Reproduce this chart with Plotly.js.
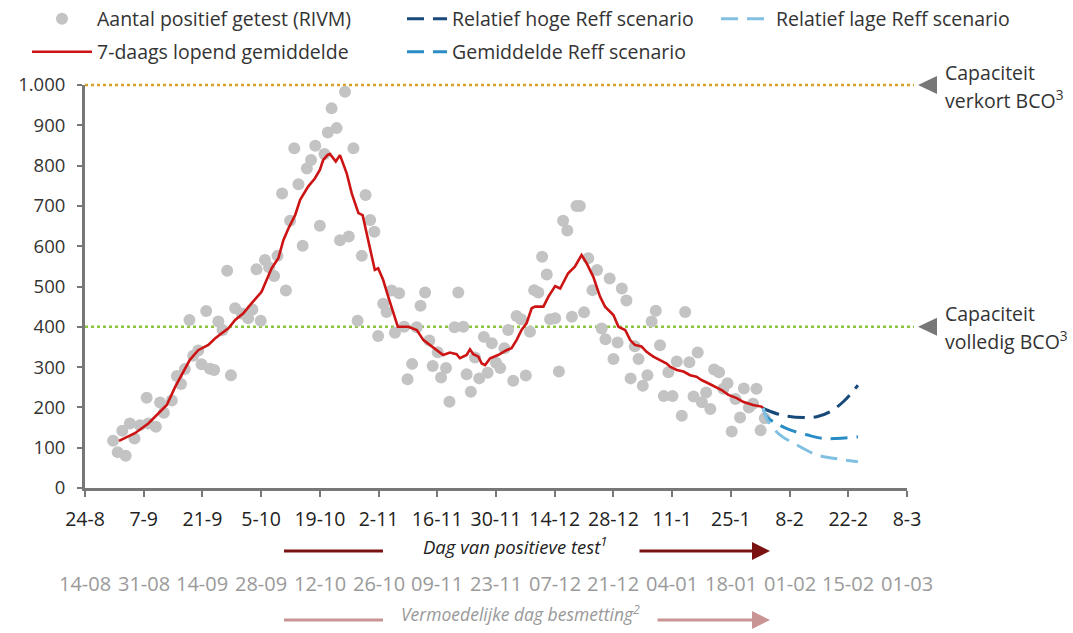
<!DOCTYPE html>
<html><head><meta charset="utf-8">
<script src="https://cdn.plot.ly/plotly-3.0.1.min.js"></script>
<style>html,body{margin:0;padding:0;background:#fff}#chart{width:1073px;height:633px}</style>
</head><body><div id="chart"></div>
<script>
// ---- data ----
const xTickDates = ['2020-08-24','2020-09-07','2020-09-21','2020-10-05','2020-10-19','2020-11-02','2020-11-16','2020-11-30','2020-12-14','2020-12-28','2021-01-11','2021-01-25','2021-02-08','2021-02-22','2021-03-08'];
const xTickLabels = ['24-8','7-9','21-9','5-10','19-10','2-11','16-11','30-11','14-12','28-12','11-1','25-1','8-2','22-2','8-3'];
const infectionLabels = ['14-08','31-08','14-09','28-09','12-10','26-10','09-11','23-11','07-12','21-12','04-01','18-01','01-02','15-02','01-03'];
const yTickVals = [0,100,200,300,400,500,600,700,800,900,1000];
const yTickLabels = ['0','100','200','300','400','500','600','700','800','900','1.000'];

// days since 24-8-2020
const dotDays = [6.7,7.8,8.9,9.7,10.7,11.8,13.1,14.7,15.1,16.9,17.9,18.8,20.7,21.9,22.9,23.8,24.9,25.8,27.0,27.8,28.9,29.8,30.8,31.8,32.8,33.9,34.8,35.8,37.4,38.9,39.9,40.9,41.9,42.9,43.9,45.1,45.9,47.0,47.9,48.9,49.9,50.9,51.9,52.9,53.9,54.9,56.0,57.1,57.9,58.8,60.0,60.8,62.0,62.9,64.0,65.0,66.0,66.9,68.0,69.0,69.9,71.1,71.9,73.1,73.9,74.9,76.1,76.9,78.0,79.1,80.0,81.1,82.1,82.9,84.1,84.9,86.1,86.9,88.1,89.0,90.2,91.0,92.0,93.0,94.0,95.1,96.0,97.0,98.0,99.0,100.0,100.9,102.1,102.9,104.0,105.1,106.1,107.1,108.1,109.0,110.1,110.9,112.1,113.0,114.0,115.0,116.1,117.2,118.0,119.0,120.0,121.0,122.1,123.2,124.1,125.1,126.0,127.0,128.0,129.1,130.1,131.1,132.0,133.0,134.1,135.1,136.1,137.1,138.0,139.1,140.1,141.1,142.3,143.1,144.1,145.1,146.1,147.1,148.1,149.1,150.0,151.2,152.2,153.2,154.2,155.1,156.2,157.1,158.3,159.3,160.1,161.1,162.1];
const dotValues = [117,89,142,80,160,123,156,224,160,152,212,187,217,278,258,295,417,328,341,307,439,296,293,413,392,539,280,446,433,421,443,543,415,566,548,526,576,731,490,663,843,754,601,793,814,849,651,829,882,942,893,615,983,624,843,415,576,727,665,636,377,457,437,490,385,483,400,270,308,399,452,485,366,303,337,274,298,214,399,485,400,282,239,324,272,375,286,359,311,298,347,392,266,427,419,279,388,491,485,574,530,419,421,289,663,639,425,700,700,436,570,491,541,396,369,520,320,361,495,465,272,352,320,254,280,413,440,354,228,287,228,314,179,437,312,227,336,213,237,196,294,287,246,260,140,221,175,247,200,209,246,143,173];

const avgDays = [8.1,11.9,15.1,17.5,19.5,21.5,23.1,25.0,27.0,29.4,30.2,31.0,32.6,34.2,35.8,37.7,39.7,42.1,43.3,44.5,46.1,47.3,48.5,50.1,51.3,53.2,54.8,56.0,56.8,57.8,58.4,59.2,59.8,60.8,61.8,62.4,63.6,65.2,66.2,67.0,68.0,69.1,69.9,71.1,72.3,73.9,74.6,77.1,79.1,80.7,82.7,85.4,87.0,88.6,89.4,91.0,91.8,92.6,93.8,94.6,95.4,96.6,98.5,100.5,101.7,102.9,104.1,105.3,106.5,107.3,109.3,110.5,112.1,113.3,115.2,116.8,118.4,119.6,121.2,122.8,124.0,126.0,127.2,128.8,130.0,131.1,132.7,133.9,135.5,137.1,138.7,139.5,141.1,142.7,144.3,145.8,147.0,148.6,150.2,151.8,153.4,155.4,156.9,159.3,161.3,161.7];
const avgValues = [117,136,160,185,206,251,280,318,342,355,363,371,384,396,417,433,458,487,516,545,570,615,644,677,715,748,768,789,814,826,829,818,810,826,797,781,731,682,677,640,599,541,545,516,475,425,400,400,392,367,351,330,336,332,322,330,344,332,326,309,305,322,330,342,347,367,392,409,446,450,450,475,501,495,533,549,578,558,524,475,450,429,400,392,367,355,351,338,326,318,309,301,293,289,280,276,268,260,251,243,231,223,214,206,202,198];

const highDays = [161.7,162.5,166.1,171.3,174.5,177.6,180.8,184.3];
const highValues = [198,194,181,175,177,189,214,255];
const midDays = [161.7,162.5,164.9,168.1,172.1,176.0,179.2,184.3];
const midValues = [198,177,160,144,132,123,123,127];
const lowDays = [161.7,162.9,165.7,169.7,174.5,178.4,184.3];
const lowValues = [198,165,132,107,82,74,65];

const capacityValues = [1000, 400];
const capacityColors = ['#d6a226', '#8cc63f'];
const capacityLines1 = ['Capaciteit', 'Capaciteit'];
const capacityLines2 = ['verkort BCO<sup>3</sup>', 'volledig BCO<sup>3</sup>'];

const seriesNames = ['Aantal positief getest (RIVM)', '7-daags lopend gemiddelde', 'Relatief hoge Reff scenario', 'Gemiddelde Reff scenario', 'Relatief lage Reff scenario'];

// ---- helpers ----
const base = Date.UTC(2020, 7, 24);
const toDate = d => base + d * 864e5;
const L = 85, R = 907, T = 85, B = 488;
const xp = px => (px - L) / (R - L);
const yp = py => (B - py) / (B - T);
const FONT = '"Open Sans", Lato, sans-serif';

const traces = [
  {x: dotDays.map(toDate), y: dotValues, type: 'scatter', mode: 'markers', name: seriesNames[0],
   marker: {color: '#c3c3c3', size: 12}, legend: 'legend', showlegend: true, cliponaxis: false},
  {x: avgDays.map(toDate), y: avgValues, type: 'scatter', mode: 'lines', name: seriesNames[1],
   line: {color: '#cc1414', width: 2.6}, legend: 'legend4', showlegend: true},
  {x: highDays.map(toDate), y: highValues, type: 'scatter', mode: 'lines', name: seriesNames[2],
   line: {color: '#17497a', width: 3, dash: '17px,9px', shape: 'spline'}, legend: 'legend2', showlegend: true},
  {x: midDays.map(toDate), y: midValues, type: 'scatter', mode: 'lines', name: seriesNames[3],
   line: {color: '#2a8cc4', width: 3, dash: '17px,9px', shape: 'spline'}, legend: 'legend5', showlegend: true},
  {x: lowDays.map(toDate), y: lowValues, type: 'scatter', mode: 'lines', name: seriesNames[4],
   line: {color: '#82c0e2', width: 3, dash: '17px,9px', shape: 'spline'}, legend: 'legend3', showlegend: true}
];

const legendBase = (x, y, w) => ({xref: 'container', yref: 'container', x: x / 1073, y: 1 - y / 633,
  xanchor: 'left', yanchor: 'middle', bgcolor: 'rgba(0,0,0,0)', itemwidth: w, visible: true,
  font: {family: FONT, size: 19.5, color: '#333'}});

const shapes = [];
const annotations = [];
capacityValues.forEach((v, i) => {
  shapes.push({type: 'line', xref: 'paper', yref: 'paper', x0: 0, x1: xp(914), y0: v / 1000, y1: v / 1000,
    line: {color: capacityColors[i], width: 2.5, dash: 'dot'}, layer: 'below'});
  shapes.push({type: 'path', xref: 'paper', yref: 'paper',
    path: `M ${xp(918)},${v/1000} L ${xp(937)},${v/1000 + 9/403} L ${xp(937)},${v/1000 - 9/403} Z`,
    fillcolor: '#777', line: {width: 0}});
  annotations.push({xref: 'paper', yref: 'paper', x: xp(943), y: v / 1000, yshift: 13, xanchor: 'left', yanchor: 'middle',
    text: capacityLines1[i], showarrow: false, font: {family: FONT, size: 19.5, color: '#333'}});
  annotations.push({xref: 'paper', yref: 'paper', x: xp(943), y: v / 1000, yshift: -14, xanchor: 'left', yanchor: 'middle',
    text: capacityLines2[i], showarrow: false, font: {family: FONT, size: 19.5, color: '#333'}});
});

infectionLabels.forEach((t, i) => {
  annotations.push({xref: 'x', yref: 'paper', x: xTickDates[i], y: yp(583), text: t, showarrow: false,
    xanchor: 'center', yanchor: 'middle', font: {family: FONT, size: 20, color: '#9a9a9a'}});
});

// "Dag van positieve test" row
shapes.push({type: 'line', xref: 'paper', yref: 'paper', x0: xp(284), x1: xp(383), y0: yp(551), y1: yp(551),
  line: {color: '#7a1212', width: 3}});
annotations.push({xref: 'paper', yref: 'paper', x: xp(770), y: yp(551), ax: -132, ay: 0, text: '', showarrow: true,
  arrowhead: 2, arrowsize: 1.2, arrowwidth: 3, arrowcolor: '#7a1212'});
annotations.push({xref: 'paper', yref: 'paper', x: xp(515), y: yp(551), yshift: -10, text: '<i>Dag van positieve test<sup>1</sup></i>',
  showarrow: false, font: {family: FONT, size: 18.5, color: '#222'}});
// "Vermoedelijke dag besmetting" row
shapes.push({type: 'line', xref: 'paper', yref: 'paper', x0: xp(284), x1: xp(383), y0: yp(620), y1: yp(620),
  line: {color: '#c99494', width: 3}});
annotations.push({xref: 'paper', yref: 'paper', x: xp(770), y: yp(620), ax: -114, ay: 0, text: '', showarrow: true,
  arrowhead: 2, arrowsize: 1.2, arrowwidth: 3, arrowcolor: '#c99494'});
annotations.push({xref: 'paper', yref: 'paper', x: xp(520), y: yp(620), yshift: -8, text: '<i>Vermoedelijke dag besmetting<sup>2</sup></i>',
  showarrow: false, font: {family: FONT, size: 17.5, color: '#999'}});

const layout = {
  width: 1073, height: 633,
  margin: {l: L, r: 1073 - R, t: T, b: 633 - B, autoexpand: false},
  paper_bgcolor: '#fff', plot_bgcolor: '#fff',
  showlegend: true,
  font: {family: FONT, color: '#333'},
  xaxis: {type: 'date', range: [xTickDates[0], xTickDates[xTickDates.length - 1]],
    tickmode: 'array', tickvals: xTickDates, ticktext: xTickLabels, automargin: false,
    showgrid: false, zeroline: false, showline: true, linecolor: '#777', linewidth: 3,
    ticks: 'outside', ticklen: 6, tickwidth: 2, tickcolor: '#777', ticklabelstandoff: 6,
    tickfont: {family: FONT, size: 19.5, color: '#222'}},
  yaxis: {range: [0, 1000], tickmode: 'array', tickvals: yTickVals, ticktext: yTickLabels, automargin: false,
    showgrid: false, zeroline: false, showline: true, linecolor: '#777', linewidth: 3,
    ticks: 'outside', ticklen: 5, tickwidth: 2, tickcolor: '#777', ticklabelstandoff: 8,
    tickfont: {family: FONT, size: 18.5, color: '#333'}},
  legend: legendBase(27, 19, 60),
  legend4: legendBase(27, 52, 60),
  legend2: legendBase(402, 19, 40),
  legend5: legendBase(402, 52, 40),
  legend3: legendBase(716, 19, 50),
  shapes: shapes,
  annotations: annotations,
  hovermode: false
};

Plotly.newPlot('chart', traces, layout, {staticPlot: true, displayModeBar: false});
</script>
</body></html>
